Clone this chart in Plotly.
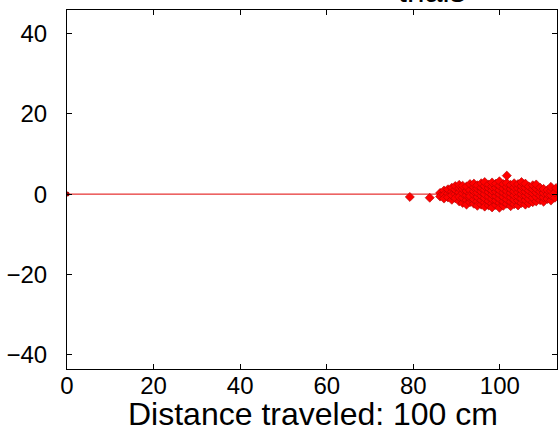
import plotly.graph_objects as go

# ---- data ----
x_cols = [86.2, 87.1, 88.0, 88.9, 89.7, 90.6, 91.4, 92.3, 93.1, 94.0, 94.8, 95.7,
          96.5, 97.4, 98.2, 99.1, 99.9, 100.8, 101.6, 102.5, 103.3, 104.2, 105.0,
          105.9, 106.7, 107.6, 108.4, 109.3, 110.1, 111.0, 111.8, 112.7]
y_cols = [
    [0.3, -0.6],
    [0.9, -0.2, -1.1],
    [0.1, 1.2, -0.8],
    [-1.4, 0.6, 1.6, -0.3],
    [0.0, -1.0, 1.1, 2.0],
    [-1.8, 0.4, 1.5, -0.7, 2.3],
    [-2.2, -0.9, 0.2, 1.3, 2.1],
    [-1.5, -0.3, 0.8, 1.9, -2.6],
    [-2.0, -1.0, 0.1, 1.0, 2.5, -0.5],
    [-2.4, -1.3, -0.2, 0.7, 1.7, 2.6],
    [-1.8, -0.7, 0.4, 1.4, 2.2, -2.9],
    [-2.6, -1.5, -0.4, 0.6, 1.6, 2.7],
    [-2.1, -1.0, 0.0, 1.1, 2.0, 3.0, -3.1],
    [-2.8, -1.7, -0.6, 0.5, 1.5, 2.4],
    [-2.3, -1.2, -0.1, 0.9, 1.9, 2.9, -3.3],
    [-2.7, -1.6, -0.5, 0.6, 1.6, 2.6],
    [-2.2, -1.1, 0.0, 1.0, 2.1, 3.2, -3.4],
    [-2.9, -1.8, -0.7, 0.4, 1.4, 2.5],
    [-2.4, -1.3, -0.2, 0.8, 1.8, 2.8, 4.6],
    [-3.0, -1.9, -0.8, 0.3, 1.3, 2.3],
    [-2.5, -1.4, -0.3, 0.7, 1.7, 2.7],
    [-2.8, -1.6, -0.6, 0.5, 1.5, 2.5],
    [-2.2, -1.1, 0.0, 1.0, 2.0, 3.0],
    [-2.6, -1.5, -0.4, 0.6, 1.6, 2.6],
    [-2.3, -1.2, -0.1, 0.9, 1.9],
    [-2.0, -0.9, 0.2, 1.2, 2.2],
    [-1.8, -0.7, 0.4, 1.4, 2.4],
    [-1.5, -0.4, 0.6, 1.6],
    [-1.9, -0.8, 0.3, 1.3],
    [-1.2, 0.0, 1.0],
    [-1.6, -0.3, 0.8, 1.8],
    [-0.9, 0.4],
]
outlier_x = [79.2, 83.8, 113.0]
outlier_y = [-0.7, -0.9, 1.5]

path_x = [0, 113.2]
path_y = [0, 0]
start_x = [0]
start_y = [0]

x_ticks = [0, 20, 40, 60, 80, 100]
y_ticks = [-40, -20, 0, 20, 40]
x_label = "Distance traveled: 100 cm"
title_text = "trials"

# ---- build ----
end_x, end_y = [], []
for xv, ys in zip(x_cols, y_cols):
    for yv in ys:
        end_x.append(xv)
        end_y.append(yv)
end_x += outlier_x
end_y += outlier_y

FONT = "Liberation Sans, Arial, Helvetica, sans-serif"

fig = go.Figure()
fig.add_trace(go.Scatter(x=path_x, y=path_y, mode="lines",
                         line=dict(color="#e00000", width=1), hoverinfo="skip"))
fig.add_trace(go.Scatter(x=end_x, y=end_y, mode="markers",
                         marker=dict(symbol="diamond", size=7, color="#ff0000",
                                     line=dict(color="#b00000", width=0.6))))
fig.add_trace(go.Scatter(x=start_x, y=start_y, mode="markers",
                         marker=dict(symbol="circle", size=5, color="#a00000")))

axis_common = dict(showline=True, linecolor="black", linewidth=1, mirror="ticks",
                   ticks="inside", ticklen=5, tickcolor="black", tickwidth=1,
                   showgrid=False, zeroline=False,
                   tickfont=dict(family=FONT, size=24, color="black"))

fig.update_xaxes(range=[0, 113.2], tickvals=x_ticks, automargin=False,
                 ticklabelstandoff=-5, **axis_common)
fig.update_yaxes(range=[-43.5, 45.8], tickvals=y_ticks, automargin=False,
                 ticklabelstandoff=14, **axis_common)

# x-axis label (placed as paper text for exact position)
fig.add_annotation(text=x_label, xref="paper", yref="paper", x=0.502, y=-0.126,
                   xanchor="center", yanchor="middle", showarrow=False,
                   font=dict(family=FONT, size=32, color="black"))

# title, cut by the top edge of the picture
fig.add_annotation(text=title_text, xref="paper", yref="paper", x=0.745, y=1,
                   xanchor="center", yanchor="bottom", yshift=-1, showarrow=False,
                   font=dict(family=FONT, size=32, color="black"))

fig.update_layout(width=558, height=436, margin=dict(l=67, r=1, t=10, b=67),
                  paper_bgcolor="white", plot_bgcolor="white", showlegend=False,
                  font=dict(family=FONT, color="black"))

fig.write_html("out.html", config={"displayModeBar": False},
               post_script="document.body.style.margin='0';document.body.style.overflow='hidden';")
